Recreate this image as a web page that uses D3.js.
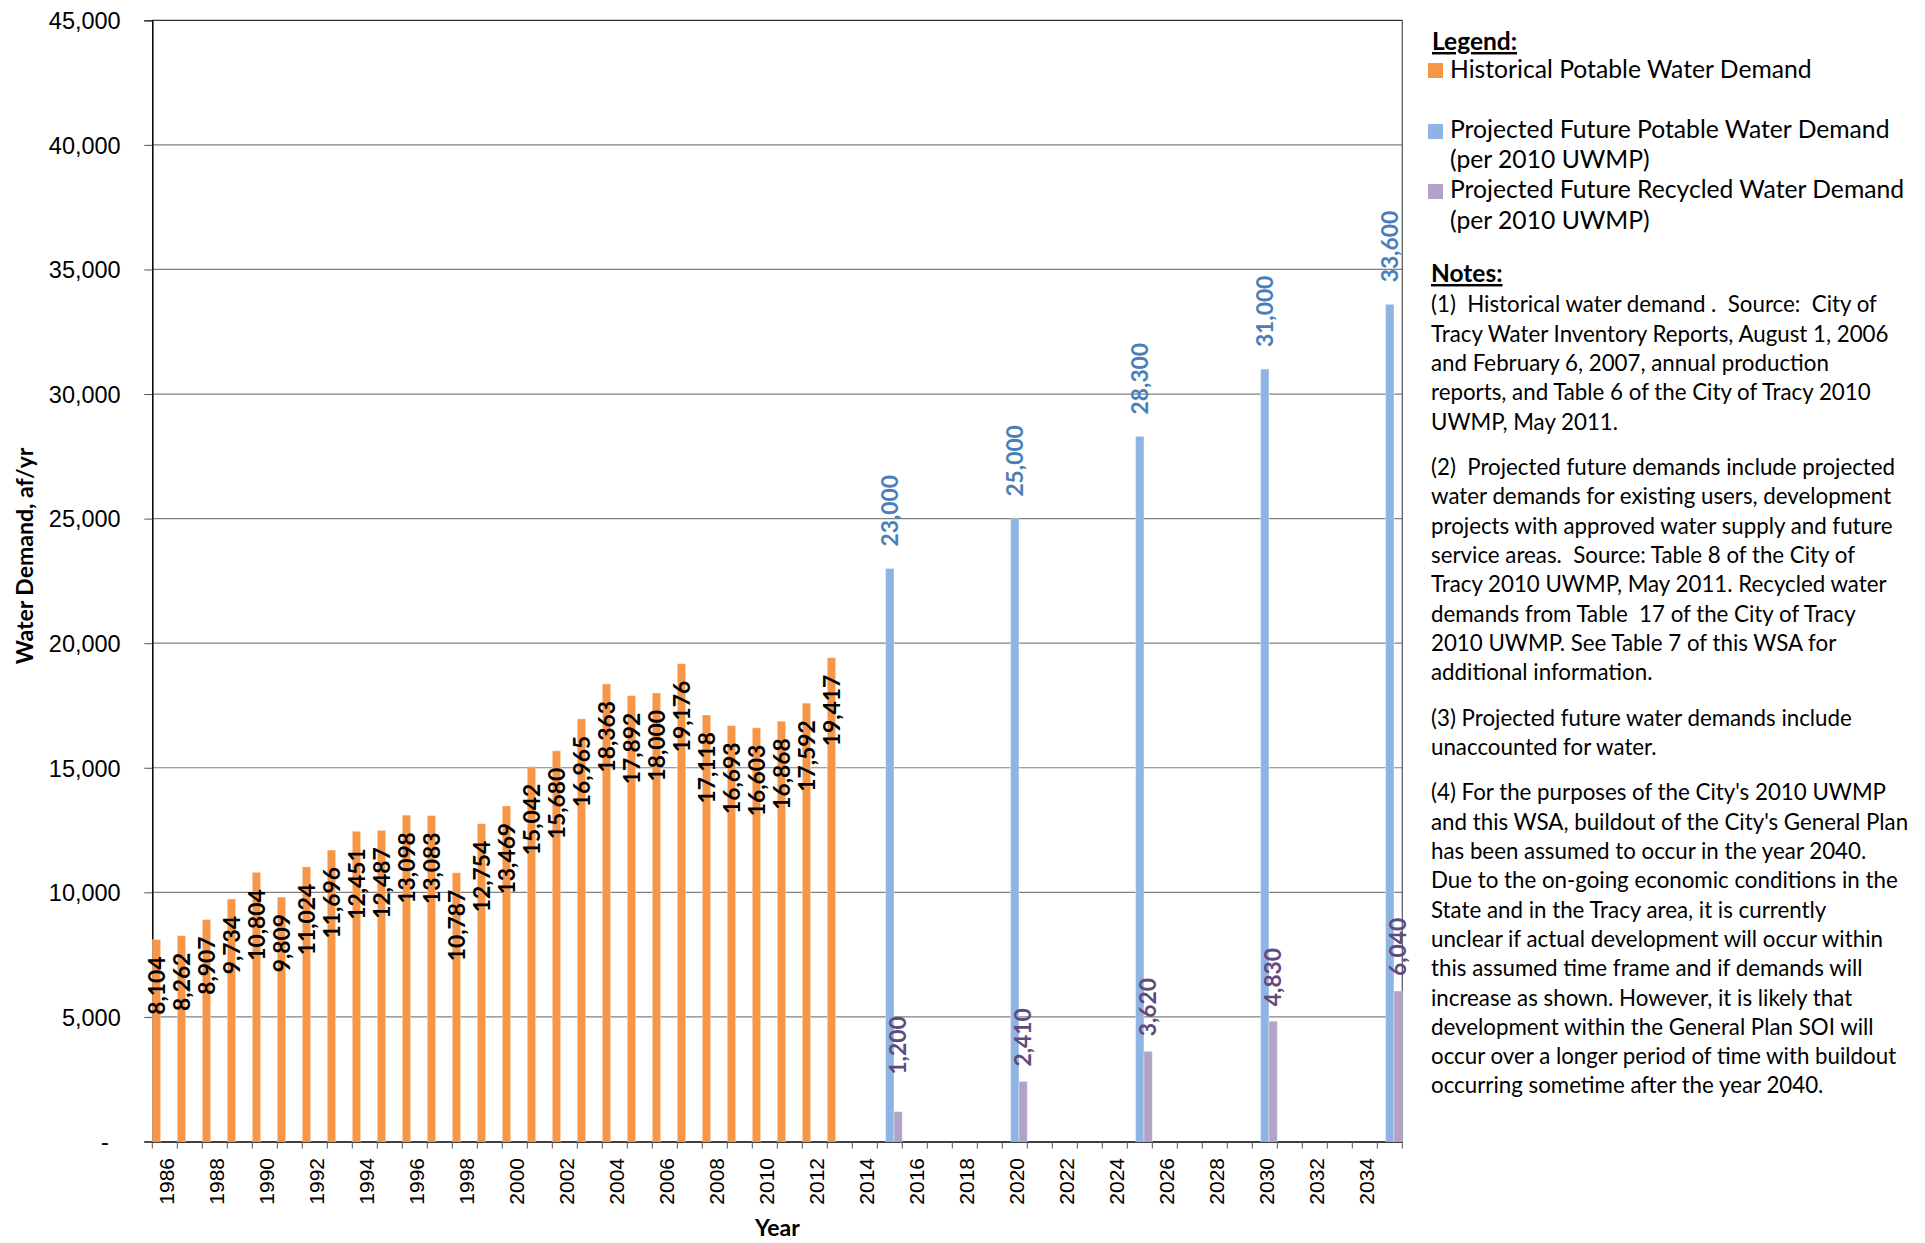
<!DOCTYPE html>
<html lang="en">
<head>
<meta charset="utf-8">
<title>Water Demand</title>
<script src="https://d3js.org/d3.v7.min.js"></script>
<style>
  body { margin: 0; background: #fff; }
  .axis text { font-family: "Liberation Sans", Arial, sans-serif; fill: #000; }
  .val { font-family: Lato, sans-serif; font-weight: bold; font-size: 22.8px; }
  .side { font-family: Lato, sans-serif; fill: #000; white-space: pre; }
</style>
</head>
<body>
<svg width="1925" height="1243"></svg>
<script>

// categories (one per year on the x axis)
var years = [1986, 1987, 1988, 1989, 1990, 1991, 1992, 1993, 1994, 1995,
             1996, 1997, 1998, 1999, 2000, 2001, 2002, 2003, 2004, 2005,
             2006, 2007, 2008, 2009, 2010, 2011, 2012, 2013, 2014, 2015,
             2016, 2017, 2018, 2019, 2020, 2021, 2022, 2023, 2024, 2025,
             2026, 2027, 2028, 2029, 2030, 2031, 2032, 2033, 2034, 2035];

var histYears = [1986, 1987, 1988, 1989, 1990, 1991, 1992, 1993, 1994, 1995,
                 1996, 1997, 1998, 1999, 2000, 2001, 2002, 2003, 2004, 2005,
                 2006, 2007, 2008, 2009, 2010, 2011, 2012, 2013];
var histValues = [8104, 8262, 8907, 9734, 10804, 9809, 11024, 11696, 12451, 12487,
                  13098, 13083, 10787, 12754, 13469, 15042, 15680, 16965, 18363, 17892,
                  18000, 19176, 17118, 16693, 16603, 16868, 17592, 19417];

var projYears = [2015, 2020, 2025, 2030, 2035];
var potableValues = [23000, 25000, 28300, 31000, 33600];
var recycledValues = [1200, 2410, 3620, 4830, 6040];

var yTicks = [0, 5000, 10000, 15000, 20000, 25000, 30000, 35000, 40000, 45000];
var xTickLabels = [1986, 1988, 1990, 1992, 1994, 1996, 1998, 2000, 2002, 2004,
                   2006, 2008, 2010, 2012, 2014, 2016, 2018, 2020, 2022, 2024,
                   2026, 2028, 2030, 2032, 2034];

var legendItems = [
  {color: "#F79646", lines: ["Historical Potable Water Demand"]},
  {color: "#8EB4E3", lines: ["Projected Future Potable Water Demand", "(per 2010 UWMP)"]},
  {color: "#B3A2C7", lines: ["Projected Future Recycled Water Demand", "(per 2010 UWMP)"]}
];

var notes = [
  ["(1)  Historical water demand .  Source:  City of",
   "Tracy Water Inventory Reports, August 1, 2006",
   "and February 6, 2007, annual production",
   "reports, and Table 6 of the City of Tracy 2010",
   "UWMP, May 2011."],
  ["(2)  Projected future demands include projected",
   "water demands for existing users, development",
   "projects with approved water supply and future",
   "service areas.  Source: Table 8 of the City of",
   "Tracy 2010 UWMP, May 2011. Recycled water",
   "demands from Table  17 of the City of Tracy",
   "2010 UWMP. See Table 7 of this WSA for",
   "additional information."],
  ["(3) Projected future water demands include",
   "unaccounted for water."],
  ["(4) For the purposes of the City's 2010 UWMP",
   "and this WSA, buildout of the City's General Plan",
   "has been assumed to occur in the year 2040.",
   "Due to the on-going economic conditions in the",
   "State and in the Tracy area, it is currently",
   "unclear if actual development will occur within",
   "this assumed time frame and if demands will",
   "increase as shown. However, it is likely that",
   "development within the General Plan SOI will",
   "occur over a longer period of time with buildout",
   "occurring sometime after the year 2040."]
];

var svg = d3.select("svg"),
    margin = {top: 20.3, left: 152.3},
    w = 1250,
    h = 1121.2;

var g = svg.append("g")
    .attr("transform", "translate(" + margin.left + "," + margin.top + ")");

var x = d3.scaleBand().domain(years).range([0, w]).padding(0),
    sub = d3.scaleBand().domain(["hist", "potable", "recycled"]).range([0, x.bandwidth()]),
    y = d3.scaleLinear().domain([0, 45000]).range([h, 0]);

// horizontal gridlines
g.selectAll(".grid")
  .data(yTicks.slice(1))
  .enter().append("line")
    .attr("class", "grid")
    .attr("x1", 0)
    .attr("x2", w)
    .attr("y1", function(d) { return y(d); })
    .attr("y2", function(d) { return y(d); })
    .attr("stroke", function(d) { return d === 45000 ? "#333" : "#808080"; })
    .attr("stroke-width", 1.2);

// right border of the plot area
g.append("line")
    .attr("x1", w).attr("x2", w)
    .attr("y1", 0).attr("y2", h)
    .attr("stroke", "#555")
    .attr("stroke-width", 1.2);

// y axis
var yAxis = g.append("g")
    .attr("class", "axis y-axis")
    .call(d3.axisLeft(y)
      .tickValues(yTicks)
      .tickSize(8)
      .tickPadding(23.6)
      .tickFormat(function(d) { return d === 0 ? "-" : d3.format(",")(d); }));
yAxis.selectAll("text").style("font-size", "23.5px").attr("dy", "0.35em");
yAxis.selectAll(".tick line").attr("stroke", "#555");
yAxis.select(".domain").attr("stroke", "#000").attr("stroke-width", 1.5);
yAxis.selectAll(".tick").filter(function(d) { return d === 0; })
  .select("text").attr("x", -43.6);

// x axis labels (every other year)
var xAxis = g.append("g")
    .attr("class", "axis x-axis")
    .attr("transform", "translate(0," + h + ")")
    .call(d3.axisBottom(x).tickValues(xTickLabels).tickSize(0));
xAxis.select(".domain").attr("stroke", "#000").attr("stroke-width", 1.5);
xAxis.selectAll("text")
    .style("font-size", "21px")
    .style("text-anchor", "end")
    .attr("transform", "rotate(-90)")
    .attr("x", -16.5)
    .attr("y", 1.5)
    .attr("dy", "0.36em");

// tick marks at every category boundary
xAxis.selectAll(".bound")
  .data(years.concat(["end"]))
  .enter().append("line")
    .attr("class", "bound")
    .attr("x1", function(d) { return d === "end" ? w : x(d); })
    .attr("x2", function(d) { return d === "end" ? w : x(d); })
    .attr("y1", 0)
    .attr("y2", 7)
    .attr("stroke", "#555");

var hist = histYears.map(function(yr, i) { return {year: yr, value: histValues[i]}; });
var potable = projYears.map(function(yr, i) { return {year: yr, value: potableValues[i]}; });
var recycled = projYears.map(function(yr, i) { return {year: yr, value: recycledValues[i]}; });

function drawBars(data, key, color) {
  g.selectAll(".bar-" + key)
    .data(data)
    .enter().append("rect")
      .attr("class", "bar-" + key)
      .attr("x", function(d) { return x(d.year) + sub(key); })
      .attr("y", function(d) { return y(d.value); })
      .attr("width", sub.bandwidth())
      .attr("height", function(d) { return h - y(d.value); })
      .attr("fill", color)
      .attr("stroke", "rgba(255,255,255,0.35)")
      .attr("stroke-width", 1);
}

drawBars(hist, "hist", "#F79646");
drawBars(potable, "potable", "#8EB4E3");
drawBars(recycled, "recycled", "#B3A2C7");

// value labels, rotated like the original
function drawLabels(data, key, color, inside, gap) {
  g.selectAll(".val-" + key)
    .data(data)
    .enter().append("text")
      .attr("class", "val val-" + key)
      .attr("transform", function(d) {
        var cx = x(d.year) + sub(key) + sub.bandwidth() / 2,
            cy = inside ? y(d.value) + gap : y(d.value) - (d.value === 1200 ? 37 : gap);
        return "translate(" + cx + "," + cy + ") rotate(-90)";
      })
      .attr("dy", "0.36em")
      .attr("text-anchor", inside ? "end" : "start")
      .attr("fill", color)
      .text(function(d) { return d3.format(",")(d.value); });
}

drawLabels(hist, "hist", "#000", true, 17);
drawLabels(potable, "potable", "#4A7EBB", false, 22);
drawLabels(recycled, "recycled", "#604A7B", false, 15);

// axis titles
svg.append("text")
    .attr("transform", "translate(33,556) rotate(-90)")
    .attr("text-anchor", "middle")
    .attr("font-family", "Lato, sans-serif")
    .attr("font-weight", "bold")
    .style("font-size", "23px")
    .text("Water Demand, af/yr");

svg.append("text")
    .attr("x", margin.left + w / 2)
    .attr("y", 1236)
    .attr("text-anchor", "middle")
    .attr("font-family", "Lato, sans-serif")
    .attr("font-weight", "bold")
    .style("font-size", "23px")
    .text("Year");

// legend
svg.append("text")
    .attr("class", "side")
    .attr("x", 1432)
    .attr("y", 50)
    .attr("font-weight", "bold")
    .style("font-size", "24.5px")
    .style("text-decoration", "underline")
    .text("Legend:");

var swatchY = [63, 124, 184],
    lineY = [[78], [138, 168], [198, 229]];

legendItems.forEach(function(item, i) {
  svg.append("rect")
      .attr("x", 1428)
      .attr("y", swatchY[i])
      .attr("width", 15)
      .attr("height", 15)
      .attr("fill", item.color);
  item.lines.forEach(function(line, j) {
    svg.append("text")
        .attr("class", "side")
        .attr("x", 1450)
        .attr("y", lineY[i][j])
        .style("font-size", "24.7px")
        .text(line);
  });
});

// notes
svg.append("text")
    .attr("class", "side")
    .attr("x", 1431)
    .attr("y", 282)
    .attr("font-weight", "bold")
    .style("font-size", "24.5px")
    .style("text-decoration", "underline")
    .text("Notes:");

var lineH = 29.3, paraGap = 16.2, ny = 312.3;
notes.forEach(function(para) {
  para.forEach(function(line) {
    svg.append("text")
        .attr("class", "side")
        .attr("x", 1431)
        .attr("y", ny)
        .style("font-size", "22.3px")
        .text(line);
    ny += lineH;
  });
  ny += paraGap;
});

</script>
</body>
</html>
